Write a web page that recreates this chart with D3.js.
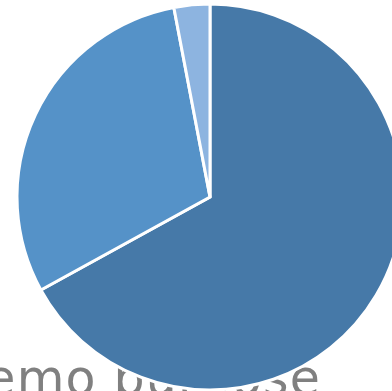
<!DOCTYPE html>
<html>
<head>
<meta charset="utf-8">
<script src="https://cdn.jsdelivr.net/npm/d3@7"></script>
<style>
  html, body { margin: 0; padding: 0; background: #fff; overflow: hidden; }
  svg { display: block; }
</style>
</head>
<body>
<script>
// Slice data
const categories = ["A", "B", "C"];
const values = [67, 30, 3];
const colors = ["#4679a8", "#5592c8", "#8db4e0"];
const watermark = "demo purpose";

const width = 392, height = 391;
const cx = 210, cy = 197, radius = 193;

const svg = d3.select("body").append("svg")
  .attr("width", width)
  .attr("height", height);

// Watermark sits underneath the pie
svg.append("text")
  .attr("x", -47)
  .attr("y", 395)
  .attr("font-family", "DejaVu Sans")
  .attr("font-size", 49)
  .attr("letter-spacing", 1.2)
  .attr("fill", "#808080")
  .text(watermark);

const data = categories.map((c, i) => ({ category: c, value: values[i] }));

const pie = d3.pie().value(d => d.value).sort(null);
const arc = d3.arc().innerRadius(0).outerRadius(radius);
const color = d3.scaleOrdinal().domain(categories).range(colors);

svg.append("g")
  .attr("transform", `translate(${cx},${cy})`)
  .selectAll("path")
  .data(pie(data))
  .join("path")
  .attr("d", arc)
  .attr("fill", d => color(d.data.category))
  .attr("stroke", "#fff")
  .attr("stroke-width", 3)
  .attr("stroke-linejoin", "miter");
</script>
</body>
</html>
